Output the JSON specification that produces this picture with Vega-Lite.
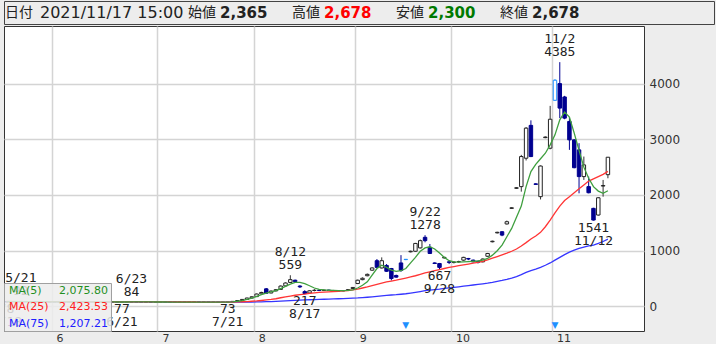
{
  "$schema": "https://vega.github.io/schema/vega-lite/v6.json",
  "background": "#ededed",
  "padding": {"left": 3, "top": 0, "right": 3, "bottom": 0},
  "spacing": 0,
  "config": {"view": {"stroke": null}, "font": "DejaVu Sans"},
  "resolve": {"legend": {"color": "independent"}, "scale": {"color": "independent"}},
  "datasets": {
    "hdrA": [{"k": "日付", "v": "2021/11/17 15:00"}],
    "hdrB": [
      {"k": "始値", "v": "2,365"},
      {"k": "高値", "v": "2,678"},
      {"k": "安値", "v": "2,300"},
      {"k": "終値", "v": "2,678"}
    ],
    "events": [
      {"d": "2021-09-15", "ev": "▼"},
      {"d": "2021-11-01", "ev": "▼"}
    ],
    "notes": [
      {"d": "2021-05-21", "p": 92, "kind": "high", "t": "5/21\n92"},
      {"d": "2021-05-18", "p": 78, "kind": "low", "t": "78\n5/18"},
      {"d": "2021-06-23", "p": 84, "kind": "high", "t": "6/23\n84"},
      {"d": "2021-06-21", "p": 77, "kind": "low", "t": "77\n6/21"},
      {"d": "2021-07-21", "p": 73, "kind": "low", "t": "73\n7/21"},
      {"d": "2021-08-12", "p": 559, "kind": "high", "t": "8/12\n559"},
      {"d": "2021-08-17", "p": 217, "kind": "low", "t": "217\n8/17"},
      {"d": "2021-09-22", "p": 1278, "kind": "high", "t": "9/22\n1278"},
      {"d": "2021-09-28", "p": 667, "kind": "low", "t": "667\n9/28"},
      {"d": "2021-11-02", "p": 4385, "kind": "high", "t": "11/2\n4385"},
      {"d": "2021-11-12", "p": 1541, "kind": "low", "t": "1541\n11/12"}
    ],
    "candles": [
      {"d": "2021-05-18", "o": 84, "h": 86, "l": 78, "c": 82, "m5": 85, "m25": 88, "m75": 85},
      {"d": "2021-05-19", "o": 82, "h": 88, "l": 81, "c": 87, "m5": 85, "m25": 88, "m75": 85},
      {"d": "2021-05-20", "o": 87, "h": 91, "l": 85, "c": 89, "m5": 86, "m25": 87, "m75": 85},
      {"d": "2021-05-21", "o": 89, "h": 92, "l": 86, "c": 88, "m5": 86, "m25": 87, "m75": 85},
      {"d": "2021-05-24", "o": 88, "h": 89, "l": 84, "c": 85, "m5": 86, "m25": 87, "m75": 85},
      {"d": "2021-05-25", "o": 85, "h": 87, "l": 83, "c": 84, "m5": 86, "m25": 87, "m75": 84},
      {"d": "2021-05-26", "o": 84, "h": 86, "l": 82, "c": 83, "m5": 86, "m25": 86, "m75": 84},
      {"d": "2021-05-27", "o": 83, "h": 85, "l": 81, "c": 82, "m5": 84, "m25": 86, "m75": 84},
      {"d": "2021-05-28", "o": 82, "h": 84, "l": 80, "c": 81, "m5": 83, "m25": 86, "m75": 84},
      {"d": "2021-05-31", "o": 81, "h": 83, "l": 80, "c": 82, "m5": 82, "m25": 85, "m75": 84},
      {"d": "2021-06-01", "o": 82, "h": 84, "l": 80, "c": 81, "m5": 82, "m25": 85, "m75": 84},
      {"d": "2021-06-02", "o": 81, "h": 83, "l": 80, "c": 82, "m5": 82, "m25": 85, "m75": 83},
      {"d": "2021-06-03", "o": 82, "h": 83, "l": 80, "c": 81, "m5": 81, "m25": 84, "m75": 83},
      {"d": "2021-06-04", "o": 81, "h": 82, "l": 79, "c": 80, "m5": 81, "m25": 84, "m75": 83},
      {"d": "2021-06-07", "o": 80, "h": 82, "l": 79, "c": 81, "m5": 81, "m25": 84, "m75": 83},
      {"d": "2021-06-08", "o": 81, "h": 83, "l": 80, "c": 82, "m5": 81, "m25": 84, "m75": 83},
      {"d": "2021-06-09", "o": 82, "h": 83, "l": 80, "c": 81, "m5": 81, "m25": 83, "m75": 83},
      {"d": "2021-06-10", "o": 81, "h": 82, "l": 79, "c": 80, "m5": 81, "m25": 83, "m75": 82},
      {"d": "2021-06-11", "o": 80, "h": 82, "l": 79, "c": 81, "m5": 81, "m25": 83, "m75": 82},
      {"d": "2021-06-14", "o": 81, "h": 82, "l": 79, "c": 80, "m5": 81, "m25": 83, "m75": 82},
      {"d": "2021-06-15", "o": 80, "h": 81, "l": 78, "c": 79, "m5": 80, "m25": 82, "m75": 82},
      {"d": "2021-06-16", "o": 79, "h": 81, "l": 78, "c": 80, "m5": 80, "m25": 82, "m75": 82},
      {"d": "2021-06-17", "o": 80, "h": 81, "l": 78, "c": 79, "m5": 80, "m25": 82, "m75": 82},
      {"d": "2021-06-18", "o": 79, "h": 80, "l": 78, "c": 78, "m5": 79, "m25": 82, "m75": 81},
      {"d": "2021-06-21", "o": 78, "h": 80, "l": 77, "c": 79, "m5": 79, "m25": 81, "m75": 81},
      {"d": "2021-06-22", "o": 79, "h": 82, "l": 78, "c": 81, "m5": 79, "m25": 81, "m75": 81},
      {"d": "2021-06-23", "o": 81, "h": 84, "l": 80, "c": 82, "m5": 80, "m25": 81, "m75": 81},
      {"d": "2021-06-24", "o": 82, "h": 83, "l": 79, "c": 80, "m5": 80, "m25": 81, "m75": 81},
      {"d": "2021-06-25", "o": 80, "h": 81, "l": 78, "c": 79, "m5": 80, "m25": 81, "m75": 81},
      {"d": "2021-06-28", "o": 79, "h": 80, "l": 78, "c": 79, "m5": 80, "m25": 80, "m75": 80},
      {"d": "2021-06-29", "o": 79, "h": 80, "l": 78, "c": 78, "m5": 80, "m25": 80, "m75": 80},
      {"d": "2021-06-30", "o": 78, "h": 80, "l": 78, "c": 79, "m5": 79, "m25": 80, "m75": 80},
      {"d": "2021-07-01", "o": 79, "h": 80, "l": 78, "c": 79, "m5": 79, "m25": 80, "m75": 80},
      {"d": "2021-07-02", "o": 79, "h": 80, "l": 78, "c": 78, "m5": 79, "m25": 80, "m75": 79},
      {"d": "2021-07-05", "o": 78, "h": 79, "l": 77, "c": 78, "m5": 78, "m25": 80, "m75": 79},
      {"d": "2021-07-06", "o": 78, "h": 79, "l": 77, "c": 77, "m5": 78, "m25": 79, "m75": 79},
      {"d": "2021-07-07", "o": 77, "h": 78, "l": 76, "c": 77, "m5": 78, "m25": 79, "m75": 78},
      {"d": "2021-07-08", "o": 77, "h": 78, "l": 76, "c": 76, "m5": 77, "m25": 79, "m75": 78},
      {"d": "2021-07-09", "o": 76, "h": 78, "l": 75, "c": 77, "m5": 77, "m25": 79, "m75": 78},
      {"d": "2021-07-12", "o": 77, "h": 78, "l": 76, "c": 77, "m5": 77, "m25": 79, "m75": 77},
      {"d": "2021-07-13", "o": 77, "h": 78, "l": 76, "c": 76, "m5": 77, "m25": 78, "m75": 77},
      {"d": "2021-07-14", "o": 76, "h": 77, "l": 75, "c": 76, "m5": 76, "m25": 78, "m75": 77},
      {"d": "2021-07-15", "o": 76, "h": 77, "l": 75, "c": 75, "m5": 76, "m25": 78, "m75": 76},
      {"d": "2021-07-16", "o": 75, "h": 76, "l": 74, "c": 75, "m5": 76, "m25": 78, "m75": 76},
      {"d": "2021-07-19", "o": 75, "h": 76, "l": 74, "c": 74, "m5": 75, "m25": 77, "m75": 76},
      {"d": "2021-07-20", "o": 74, "h": 76, "l": 74, "c": 75, "m5": 75, "m25": 77, "m75": 75},
      {"d": "2021-07-21", "o": 75, "h": 77, "l": 73, "c": 76, "m5": 75, "m25": 77, "m75": 75},
      {"d": "2021-07-26", "o": 77, "h": 92, "l": 76, "c": 90, "m5": 82, "m25": 78, "m75": 75},
      {"d": "2021-07-27", "o": 90, "h": 108, "l": 88, "c": 105, "m5": 92, "m25": 80, "m75": 76},
      {"d": "2021-07-28", "o": 105, "h": 130, "l": 102, "c": 125, "m5": 105, "m25": 83, "m75": 76},
      {"d": "2021-07-29", "o": 125, "h": 155, "l": 120, "c": 150, "m5": 125, "m25": 87, "m75": 77},
      {"d": "2021-07-30", "o": 150, "h": 180, "l": 145, "c": 172, "m5": 150, "m25": 92, "m75": 78},
      {"d": "2021-08-02", "o": 175, "h": 230, "l": 170, "c": 222, "m5": 180, "m25": 98, "m75": 80},
      {"d": "2021-08-03", "o": 225, "h": 262, "l": 218, "c": 250, "m5": 210, "m25": 106, "m75": 82},
      {"d": "2021-08-04", "o": 315, "h": 330, "l": 225, "c": 235, "m5": 240, "m25": 115, "m75": 84},
      {"d": "2021-08-05", "o": 240, "h": 285, "l": 235, "c": 275, "m5": 262, "m25": 125, "m75": 87},
      {"d": "2021-08-06", "o": 278, "h": 310, "l": 270, "c": 300, "m5": 282, "m25": 137, "m75": 90},
      {"d": "2021-08-10", "o": 305, "h": 375, "l": 300, "c": 365, "m5": 320, "m25": 155, "m75": 94},
      {"d": "2021-08-11", "o": 368, "h": 430, "l": 360, "c": 420, "m5": 360, "m25": 170, "m75": 99},
      {"d": "2021-08-12", "o": 430, "h": 559, "l": 425, "c": 480, "m5": 400, "m25": 185, "m75": 104},
      {"d": "2021-08-13", "o": 470, "h": 480, "l": 430, "c": 445, "m5": 430, "m25": 200, "m75": 109},
      {"d": "2021-08-16", "o": 365, "h": 380, "l": 330, "c": 350, "m5": 432, "m25": 212, "m75": 113},
      {"d": "2021-08-17", "o": 265, "h": 290, "l": 217, "c": 230, "m5": 410, "m25": 220, "m75": 116},
      {"d": "2021-08-18", "o": 240, "h": 290, "l": 235, "c": 280, "m5": 370, "m25": 232, "m75": 119},
      {"d": "2021-08-19", "o": 285, "h": 310, "l": 270, "c": 290, "m5": 330, "m25": 242, "m75": 122},
      {"d": "2021-08-20", "o": 290, "h": 310, "l": 275, "c": 285, "m5": 305, "m25": 250, "m75": 125},
      {"d": "2021-08-23", "o": 285, "h": 300, "l": 275, "c": 292, "m5": 295, "m25": 256, "m75": 128},
      {"d": "2021-08-24", "o": 292, "h": 300, "l": 280, "c": 285, "m5": 290, "m25": 262, "m75": 131},
      {"d": "2021-08-25", "o": 285, "h": 295, "l": 275, "c": 280, "m5": 286, "m25": 267, "m75": 134},
      {"d": "2021-08-26", "o": 280, "h": 290, "l": 270, "c": 278, "m5": 283, "m25": 272, "m75": 137},
      {"d": "2021-08-27", "o": 278, "h": 290, "l": 270, "c": 285, "m5": 282, "m25": 277, "m75": 140},
      {"d": "2021-08-30", "o": 290, "h": 310, "l": 285, "c": 300, "m5": 286, "m25": 284, "m75": 143},
      {"d": "2021-08-31", "o": 320, "h": 345, "l": 315, "c": 340, "m5": 297, "m25": 295, "m75": 147},
      {"d": "2021-09-01", "o": 410, "h": 480, "l": 400, "c": 470, "m5": 330, "m25": 310, "m75": 151},
      {"d": "2021-09-02", "o": 480, "h": 520, "l": 470, "c": 505, "m5": 380, "m25": 330, "m75": 157},
      {"d": "2021-09-03", "o": 550, "h": 590, "l": 540, "c": 575, "m5": 440, "m25": 350, "m75": 164},
      {"d": "2021-09-06", "o": 650, "h": 700, "l": 640, "c": 690, "m5": 560, "m25": 372, "m75": 172},
      {"d": "2021-09-07", "o": 820, "h": 850, "l": 690, "c": 700, "m5": 680, "m25": 395, "m75": 181},
      {"d": "2021-09-08", "o": 690, "h": 880, "l": 680, "c": 820, "m5": 740, "m25": 418, "m75": 190},
      {"d": "2021-09-09", "o": 735, "h": 760, "l": 620, "c": 630, "m5": 700, "m25": 438, "m75": 198},
      {"d": "2021-09-10", "o": 680, "h": 690, "l": 465, "c": 500, "m5": 650, "m25": 455, "m75": 204},
      {"d": "2021-09-13", "o": 555, "h": 570, "l": 515, "c": 525, "m5": 630, "m25": 470, "m75": 210},
      {"d": "2021-09-14", "o": 780, "h": 920, "l": 620, "c": 645, "m5": 640, "m25": 488, "m75": 218},
      {"d": "2021-09-15", "o": 840, "h": 850, "l": 830, "c": 845, "m5": 680, "m25": 508, "m75": 227},
      {"d": "2021-09-16", "o": 980, "h": 1000, "l": 970, "c": 990, "m5": 780, "m25": 528, "m75": 239},
      {"d": "2021-09-17", "o": 990, "h": 1140, "l": 980, "c": 1130, "m5": 880, "m25": 550, "m75": 252},
      {"d": "2021-09-21", "o": 1050, "h": 1200, "l": 1040, "c": 1180, "m5": 990, "m25": 575, "m75": 266},
      {"d": "2021-09-22", "o": 1240, "h": 1278, "l": 1150, "c": 1180, "m5": 1050, "m25": 600, "m75": 281},
      {"d": "2021-09-24", "o": 1060, "h": 1120, "l": 940, "c": 950, "m5": 1070, "m25": 620, "m75": 293},
      {"d": "2021-09-27", "o": 780, "h": 790, "l": 760, "c": 770, "m5": 1030, "m25": 640, "m75": 302},
      {"d": "2021-09-28", "o": 770, "h": 780, "l": 667, "c": 700, "m5": 960, "m25": 660, "m75": 311},
      {"d": "2021-09-29", "o": 870, "h": 890, "l": 860, "c": 880, "m5": 880, "m25": 680, "m75": 322},
      {"d": "2021-09-30", "o": 800, "h": 810, "l": 760, "c": 790, "m5": 820, "m25": 700, "m75": 332},
      {"d": "2021-10-01", "o": 790, "h": 810, "l": 770, "c": 795, "m5": 800, "m25": 715, "m75": 342},
      {"d": "2021-10-04", "o": 800, "h": 820, "l": 780, "c": 805, "m5": 795, "m25": 730, "m75": 352},
      {"d": "2021-10-05", "o": 830, "h": 890, "l": 820, "c": 880, "m5": 800, "m25": 745, "m75": 363},
      {"d": "2021-10-06", "o": 860, "h": 870, "l": 830, "c": 850, "m5": 805, "m25": 760, "m75": 374},
      {"d": "2021-10-07", "o": 830, "h": 840, "l": 790, "c": 800, "m5": 810, "m25": 775, "m75": 384},
      {"d": "2021-10-08", "o": 810, "h": 820, "l": 770, "c": 790, "m5": 815, "m25": 790, "m75": 394},
      {"d": "2021-10-11", "o": 800, "h": 860, "l": 790, "c": 850, "m5": 830, "m25": 810, "m75": 405},
      {"d": "2021-10-12", "o": 900, "h": 960, "l": 890, "c": 950, "m5": 860, "m25": 835, "m75": 417},
      {"d": "2021-10-13", "o": 1160, "h": 1180, "l": 1150, "c": 1170, "m5": 920, "m25": 865, "m75": 432},
      {"d": "2021-10-14", "o": 1320, "h": 1340, "l": 1310, "c": 1330, "m5": 1000, "m25": 895, "m75": 449},
      {"d": "2021-10-15", "o": 1340, "h": 1350, "l": 1260, "c": 1280, "m5": 1100, "m25": 925, "m75": 466},
      {"d": "2021-10-18", "o": 1480, "h": 1540, "l": 1470, "c": 1520, "m5": 1250, "m25": 955, "m75": 485},
      {"d": "2021-10-19", "o": 1760, "h": 1780, "l": 1750, "c": 1770, "m5": 1400, "m25": 990, "m75": 508},
      {"d": "2021-10-20", "o": 2120, "h": 2140, "l": 2110, "c": 2130, "m5": 1600, "m25": 1030, "m75": 535},
      {"d": "2021-10-21", "o": 2150, "h": 2720, "l": 2060, "c": 2690, "m5": 1800, "m25": 1085, "m75": 570},
      {"d": "2021-10-22", "o": 2660, "h": 3220, "l": 2620, "c": 3200, "m5": 2150, "m25": 1145, "m75": 610},
      {"d": "2021-10-25", "o": 3250, "h": 3340, "l": 2680, "c": 2690, "m5": 2420, "m25": 1210, "m75": 642},
      {"d": "2021-10-26", "o": 2200, "h": 2210, "l": 2190, "c": 2190, "m5": 2550, "m25": 1265, "m75": 668},
      {"d": "2021-10-27", "o": 1970, "h": 2530, "l": 1920, "c": 2520, "m5": 2650, "m25": 1330, "m75": 700},
      {"d": "2021-10-28", "o": 3030, "h": 3050, "l": 3020, "c": 3040, "m5": 2750, "m25": 1430, "m75": 738},
      {"d": "2021-10-29", "o": 2840, "h": 3600, "l": 2820, "c": 3360, "m5": 2900, "m25": 1550, "m75": 780},
      {"d": "2021-11-01", "o": 3700, "h": 4080, "l": 3690, "c": 4060, "m5": 3080, "m25": 1680, "m75": 830},
      {"d": "2021-11-02", "o": 4000, "h": 4385, "l": 3380, "c": 3560, "m5": 3350, "m25": 1800, "m75": 880},
      {"d": "2021-11-04", "o": 3760, "h": 3780, "l": 3360, "c": 3380, "m5": 3490, "m25": 1900, "m75": 930},
      {"d": "2021-11-05", "o": 3320, "h": 3400, "l": 2810, "c": 2990, "m5": 3400, "m25": 1970, "m75": 975},
      {"d": "2021-11-08", "o": 2990, "h": 3000, "l": 2480, "c": 2490, "m5": 3110, "m25": 2040, "m75": 1010},
      {"d": "2021-11-09", "o": 2810, "h": 2930, "l": 2030, "c": 2330, "m5": 2800, "m25": 2110, "m75": 1040},
      {"d": "2021-11-10", "o": 2330, "h": 2690, "l": 2270, "c": 2540, "m5": 2500, "m25": 2180, "m75": 1065},
      {"d": "2021-11-11", "o": 2150, "h": 2330, "l": 2030, "c": 2040, "m5": 2300, "m25": 2250, "m75": 1085},
      {"d": "2021-11-12", "o": 1760, "h": 1770, "l": 1541, "c": 1550, "m5": 2150, "m25": 2290, "m75": 1100},
      {"d": "2021-11-15", "o": 1640, "h": 1960, "l": 1630, "c": 1950, "m5": 2070, "m25": 2330, "m75": 1130},
      {"d": "2021-11-16", "o": 2160, "h": 2270, "l": 1970, "c": 2170, "m5": 2030, "m25": 2370, "m75": 1165},
      {"d": "2021-11-17", "o": 2365, "h": 2678, "l": 2300, "c": 2678, "m5": 2075.8, "m25": 2423.53, "m75": 1207.21}
    ]
  },
  "vconcat": [
    {
      "width": 710,
      "height": 23,
      "view": {"fill": "#ededed", "stroke": "#444444"},
      "layer": [
        {
          "data": {"name": "hdrA"},
          "mark": {"type": "text", "align": "left", "baseline": "middle", "font": "Noto Sans CJK JP", "fontSize": 14, "color": "#222222", "dx": 1},
          "encoding": {
            "x": {"field": "k", "type": "nominal", "scale": {"type": "point", "padding": 0, "align": 0}, "axis": null},
            "text": {"field": "k"}
          }
        },
        {
          "data": {"name": "hdrA"},
          "mark": {"type": "text", "align": "left", "baseline": "middle", "font": "DejaVu Sans", "fontSize": 16, "color": "#222222", "dx": 36},
          "encoding": {
            "x": {"field": "k", "type": "nominal", "scale": {"type": "point", "padding": 0, "align": 0}, "axis": null},
            "text": {"field": "v"}
          }
        },
        {
          "data": {"name": "hdrB"},
          "mark": {"type": "text", "align": "left", "baseline": "middle", "font": "Noto Sans CJK JP", "fontSize": 14, "color": "#222222"},
          "encoding": {
            "x": {"field": "k", "type": "nominal", "sort": ["始値", "高値", "安値", "終値"], "scale": {"type": "point", "padding": 0, "range": [184, 496]}, "axis": null},
            "text": {"field": "k"}
          }
        },
        {
          "data": {"name": "hdrB"},
          "mark": {"type": "text", "align": "left", "baseline": "middle", "font": "DejaVu Sans", "fontSize": 15, "fontWeight": "bold", "dx": 32},
          "encoding": {
            "x": {"field": "k", "type": "nominal", "sort": ["始値", "高値", "安値", "終値"], "scale": {"type": "point", "padding": 0, "range": [184, 496]}, "axis": null},
            "text": {"field": "v"},
            "color": {"field": "k", "type": "nominal", "scale": {"domain": ["始値", "高値", "安値", "終値"], "range": ["#222222", "#ff0000", "#007a00", "#222222"]}, "legend": null}
          }
        }
      ],
      "resolve": {"scale": {"x": "independent", "color": "independent"}}
    },
    {
      "width": 640,
      "height": 305,
      "view": {"fill": "#ffffff", "stroke": "#333333"},
      "encoding": {
        "x": {
          "field": "d",
          "type": "ordinal",
          "title": null,
          "scale": {"type": "band", "paddingInner": 0, "paddingOuter": 0, "round": false, "domain": {"unionWith": ["2021-11-18", "2021-11-19", "2021-11-22", "2021-11-24", "2021-11-25", "2021-11-26", "2021-11-29"]}},
          "axis": {
            "values": ["2021-06-01", "2021-07-01", "2021-08-02", "2021-09-01", "2021-10-01", "2021-11-01"],
            "labelExpr": "'' + parseInt(slice(datum.value, 5, 7))",
            "bandPosition": 0,
            "grid": true,
            "gridColor": "#d4d4d4",
            "gridWidth": 1.5,
            "ticks": false,
            "domain": false,
            "labelAlign": "left",
            "labelBaseline": "top",
            "labelPadding": 1,
            "labelOffset": 2,
            "labelFontSize": 11,
            "labelColor": "#333333",
            "labelAngle": 0,
            "title": null
          }
        }
      },
      "layer": [
        {
          "data": {"name": "candles"},
          "transform": [{"lookup": "d", "from": {"data": {"name": "events"}, "key": "d", "fields": ["ev"]}}],
          "mark": {"type": "rule", "strokeWidth": 1},
          "encoding": {
            "y": {
              "field": "l",
              "type": "quantitative",
              "title": null,
              "scale": {"domain": [-442, 5034], "nice": false, "zero": false},
              "axis": {
                "orient": "right",
                "values": [0, 1000, 2000, 3000, 4000],
                "format": "d",
                "grid": true,
                "gridColor": "#d4d4d4",
                "gridWidth": 1.5,
                "ticks": false,
                "domain": false,
                "labelAlign": "left",
                "labelBaseline": "middle",
                "labelPadding": 5,
                "labelFontSize": 12,
                "labelColor": "#333333",
                "title": null
              }
            },
            "y2": {"field": "h"},
            "color": {
              "condition": [
                {"test": "datum.ev", "value": "#1e90ff"},
                {"test": "datum.c < datum.o", "value": "#000090"}
              ],
              "value": "#333333"
            }
          }
        },
        {
          "data": {"name": "candles"},
          "transform": [{"lookup": "d", "from": {"data": {"name": "events"}, "key": "d", "fields": ["ev"]}}],
          "mark": {"type": "bar", "width": {"band": 0.72}, "strokeWidth": 1},
          "encoding": {
            "y": {"field": "o", "type": "quantitative", "title": null},
            "y2": {"field": "c"},
            "fill": {"condition": {"test": "datum.c < datum.o", "value": "#000090"}, "value": "#ffffff"},
            "stroke": {
              "condition": [
                {"test": "datum.ev", "value": "#1e90ff"},
                {"test": "datum.c < datum.o", "value": "#000090"}
              ],
              "value": "#222222"
            }
          }
        },
        {
          "data": {"name": "candles"},
          "transform": [{"fold": ["m75", "m25", "m5"], "as": ["s", "v"]}],
          "mark": {"type": "line", "strokeWidth": 1.3},
          "encoding": {
            "y": {"field": "v", "type": "quantitative", "title": null},
            "color": {
              "field": "s",
              "type": "nominal",
              "scale": {"domain": ["m5", "m25", "m75"], "range": ["#3f9f3f", "#ff3535", "#3535ff"]},
              "legend": {
                "title": null,
                "orient": "bottom-left",
                "offset": 0,
                "padding": 2,
                "fillColor": "rgba(236,236,236,0.85)",
                "strokeColor": "#a0a0a0",
                "symbolSize": 0,
                "symbolStrokeWidth": 0,
                "symbolOpacity": 0,
                "labelOffset": -8,
                "labelFont": "DejaVu Sans",
                "labelFontSize": 11,
                "rowPadding": 4.5,
                "labelLimit": 200,
                "labelExpr": "datum.value == 'm5' ? 'MA(5)\u00a0\u00a0\u00a0\u00a0\u00a02,075.80' : datum.value == 'm25' ? 'MA(25)\u00a0\u00a0\u00a02,423.53' : 'MA(75)\u00a0\u00a0\u00a01,207.21'",
                "labelColor": {"expr": "datum.value == 'm5' ? '#1f8f1f' : datum.value == 'm25' ? '#ff2020' : '#2020ff'"}
              }
            }
          }
        },
        {
          "data": {"name": "notes"},
          "transform": [{"filter": "datum.kind == 'high'"}],
          "mark": {"type": "text", "baseline": "bottom", "dy": -16, "font": "DejaVu Sans Mono", "fontSize": 13, "lineHeight": 13, "lineBreak": "\n", "color": "#222222", "clip": true},
          "encoding": {
            "y": {"field": "p", "type": "quantitative", "title": null},
            "text": {"field": "t"}
          }
        },
        {
          "data": {"name": "notes"},
          "transform": [{"filter": "datum.kind == 'low'"}],
          "mark": {"type": "text", "baseline": "top", "dy": 1, "font": "DejaVu Sans Mono", "fontSize": 13, "lineHeight": 13, "lineBreak": "\n", "color": "#222222", "clip": true},
          "encoding": {
            "y": {"field": "p", "type": "quantitative", "title": null},
            "text": {"field": "t"}
          }
        },
        {
          "data": {"name": "events"},
          "mark": {"type": "text", "y": "height", "baseline": "bottom", "dy": -1, "fontSize": 9, "color": "#1e90ff"},
          "encoding": {"text": {"field": "ev"}}
        }
      ]
    }
  ]
}
